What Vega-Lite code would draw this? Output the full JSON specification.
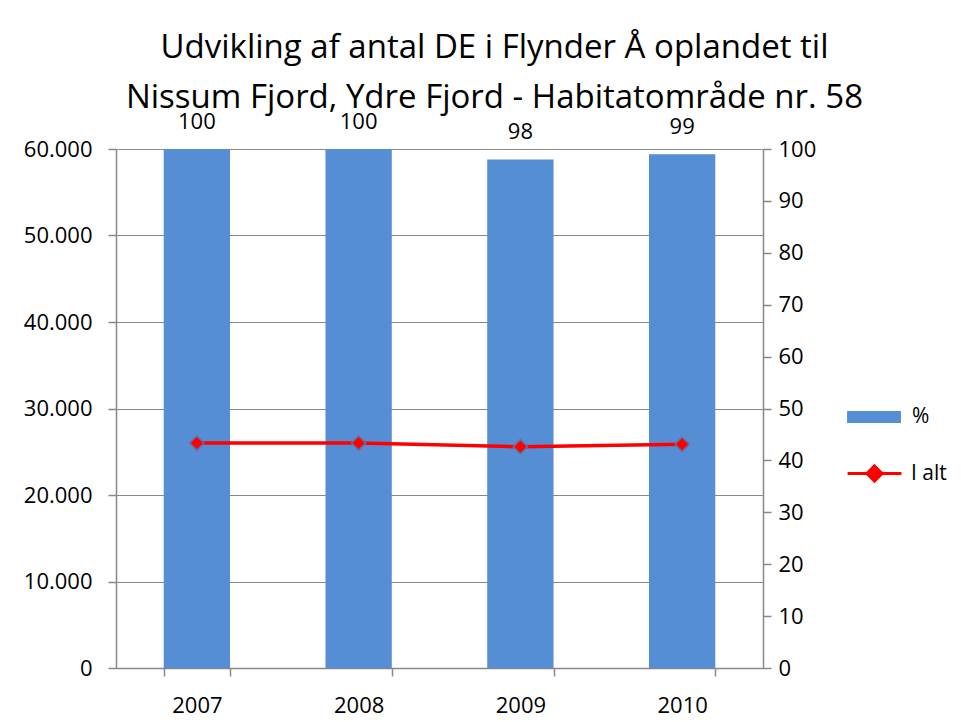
{
  "$schema": "https://vega.github.io/schema/vega-lite/v6.json",
  "width": 647,
  "height": 519,
  "autosize": {"type": "none"},
  "padding": {"left": 116, "top": 149, "right": 198, "bottom": 54},
  "background": "white",
  "config": {
    "font": "Open Sans",
    "view": {"stroke": null},
    "locale": {"number": {"decimal": ",", "thousands": ".", "grouping": [3], "currency": ["", " kr"]}}
  },
  "title": {
    "text": ["Udvikling af antal DE i Flynder Å oplandet  til", "Nissum Fjord, Ydre Fjord - Habitatområde nr. 58"],
    "fontSize": 33,
    "fontWeight": "normal",
    "font": "Open Sans",
    "lineHeight": 50,
    "anchor": "middle",
    "frame": "group",
    "dx": 55,
    "offset": -4,
    "color": "black"
  },
  "data": {
    "values": [
      {"year": "2007", "pct": 100, "total": 26010},
      {"year": "2008", "pct": 100, "total": 26010},
      {"year": "2009", "pct": 98, "total": 25580},
      {"year": "2010", "pct": 99, "total": 25860}
    ]
  },
  "encoding": {
    "x": {
      "field": "year",
      "type": "nominal",
      "title": null,
      "scale": {"paddingInner": 0.59, "paddingOuter": 0.295},
      "axis": {"labelAngle": 0, "tickBand": "extent", "tickSize": 8, "labelPadding": 19, "grid": false, "labelFontSize": 22, "labelColor": "black", "domainColor": "#888", "tickColor": "#888", "domainWidth": 1.5, "tickWidth": 1.5}
    }
  },
  "layer": [
    {
      "mark": {"type": "bar", "color": "#558ed5"},
      "encoding": {
        "y": {"field": "pct", "type": "quantitative", "scale": {"domain": [0, 100]}, "title": null,
          "axis": {"orient": "right", "values": [0,10,20,30,40,50,60,70,80,90,100], "grid": false, "tickSize": 8, "labelPadding": 7, "labelFontSize": 22, "labelColor": "black", "domainColor": "#888", "tickColor": "#888", "domainWidth": 1.5, "tickWidth": 1.5}},
        "fill": {"datum": "%", "type": "nominal", "scale": {"range": ["#558ed5"]},
          "legend": {"orient": "none", "legendX": 730, "legendY": 240, "title": null, "symbolType": "M-1,-0.22H1V0.22H-1Z", "symbolSize": 2900, "labelFontSize": 21, "labelFont": "Open Sans", "labelColor": "black", "labelOffset": 10}}
      }
    },
    {
      "mark": {"type": "text", "dy": -27, "fontSize": 22, "font": "Open Sans"},
      "encoding": {
        "y": {"field": "pct", "type": "quantitative", "scale": {"domain": [0, 100]}, "axis": null},
        "text": {"field": "pct", "type": "quantitative"}
      }
    },
    {
      "mark": {"type": "line", "color": "#ff0000", "strokeWidth": 3.5},
      "encoding": {
        "y": {"field": "total", "type": "quantitative", "scale": {"domain": [0, 60000]}, "title": null,
          "axis": {"orient": "left", "values": [0,10000,20000,30000,40000,50000,60000], "format": ",d", "grid": true, "gridColor": "#888", "gridWidth": 1.2, "tickSize": 8, "labelPadding": 16, "labelFontSize": 22, "labelColor": "black", "domainColor": "#888", "tickColor": "#888", "domainWidth": 1.5, "tickWidth": 1.5}},
        "stroke": {"datum": "I alt", "type": "nominal", "scale": {"range": ["#ff0000"]},
          "legend": {"orient": "none", "legendX": 730, "legendY": 296, "title": null, "symbolType": "M-1,0H1M0,-0.28L0.28,0L0,0.28L-0.28,0Z", "symbolSize": 2900, "symbolStrokeWidth": 3, "symbolFillColor": "#ff0000", "labelFontSize": 21, "labelFont": "Open Sans", "labelColor": "black", "labelOffset": 8}}
      }
    },
    {
      "mark": {"type": "point", "shape": "diamond", "filled": true, "size": 200, "fill": "#ff0000", "stroke": "#6b6b9e", "strokeWidth": 1.5, "opacity": 1},
      "encoding": {
        "y": {"field": "total", "type": "quantitative", "scale": {"domain": [0, 60000]}, "axis": null}
      }
    }
  ],
  "resolve": {"scale": {"y": "independent", "fill": "independent", "stroke": "independent"}}
}
